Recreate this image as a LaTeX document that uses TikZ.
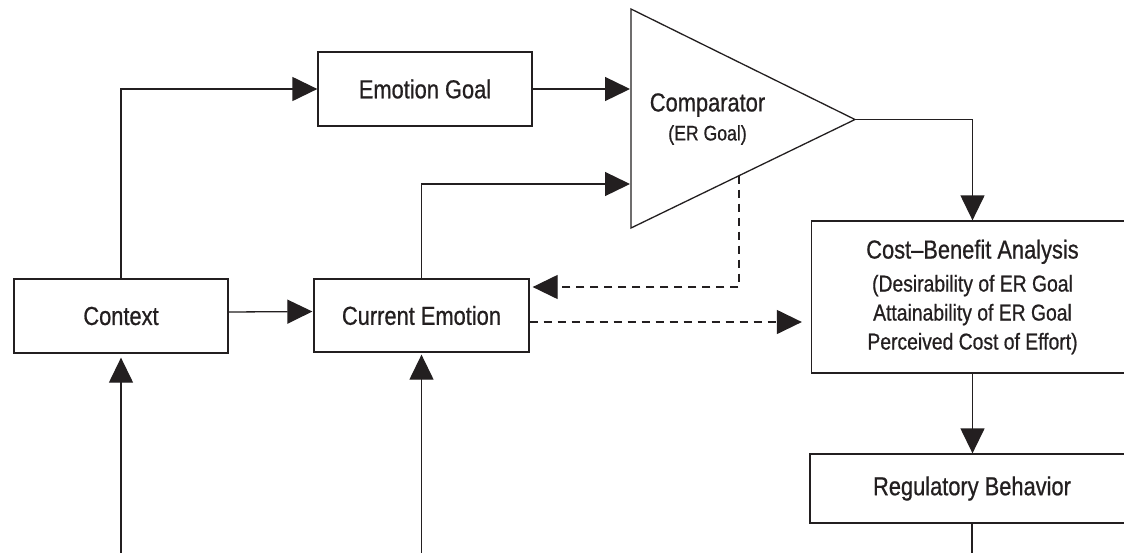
\documentclass[tikz,border=0pt]{standalone}
\usepackage{fontspec}
\setmainfont[FakeStretch=0.84,FakeBold=0.7]{Liberation Sans}
\usetikzlibrary{arrows.meta,calc}
\definecolor{ink}{RGB}{35,31,32}
\begin{document}
\begin{tikzpicture}[x=1pt,y=-1pt,
  box/.style={draw=ink,line width=1.3pt,fill=white,inner sep=0pt,text=ink,font=\fontsize{26}{29}\selectfont},
  arr/.style={draw=ink,line width=1.3pt,-{Triangle[length=25pt,width=24pt]}},
  darr/.style={arr,dash pattern=on 8pt off 6pt},
  plain/.style={draw=ink,line width=1.3pt}]
\clip (0,0) rectangle (1124,552);
\fill[white] (0,0) rectangle (1124,552);
% boxes
\node[box,minimum width=214pt,minimum height=74pt] (ctx) at (121,316) {Context};
\node[box,minimum width=215pt,minimum height=73pt] (ce) at (421.5,315.5) {Current Emotion};
\node[box,minimum width=214pt,minimum height=74pt] (eg) at (425,89) {Emotion Goal};
\node[box,minimum width=322pt,minimum height=152pt,align=center,font=\fontsize{23}{29}\selectfont] (cba) at (972.5,297)
  {{\fontsize{26}{29}\selectfont Cost–Benefit Analysis}\\[4pt](Desirability of ER Goal\\Attainability of ER Goal\\Perceived Cost of Effort)};
\node[box,minimum width=324pt,minimum height=69pt] (rb) at (972,488.5) {Regulatory Behavior};
% comparator triangle
\coordinate (t1) at (631,9);
\coordinate (t2) at (631,228);
\coordinate (t3) at (855,119.5);
\draw[plain,line join=miter] (t1) -- (t3) -- (t2) -- cycle;
\node[align=center,text=ink,font=\fontsize{26}{29}\selectfont,inner sep=0pt] (cmp) at (707.5,119)
  {Comparator\\{\fontsize{21}{29}\selectfont (ER Goal)}};
\coordinate (cin1) at (630,88);
\coordinate (cin2) at (630,184);
\coordinate (cout) at ($(t2)!0.482!(t3)$);
\coordinate (cbain) at ([xshift=-9pt]cba.west);
\coordinate (bot) at (0,560);
% connectors
\draw[arr] (ctx.north) |- (eg.west);
\draw[arr] (eg.east) -- (eg.east -| cin1);
\draw[arr] ([yshift=4pt]ctx.east) -- ([yshift=4pt,xshift=-1pt]ce.west);
\draw[arr] (ce.north) |- (cin2);
\draw[arr] (t3) -| (cba.north);
\draw[darr] (cout) |- ([xshift=3pt,yshift=28.5pt]ce.east);
\draw[darr] ([yshift=-6.5pt]ce.east) -- ([yshift=-6.5pt]ce.east -| cbain);
\draw[arr] (cba.south) -- (cba.south |- rb.north);
\draw[plain] (rb.south) -- (rb.south |- bot);
\draw[arr] (ctx.south |- bot) -- ([yshift=-4pt]ctx.south);
\draw[arr] (ce.south |- bot) -- ([yshift=-2pt]ce.south);
\end{tikzpicture}
\end{document}
